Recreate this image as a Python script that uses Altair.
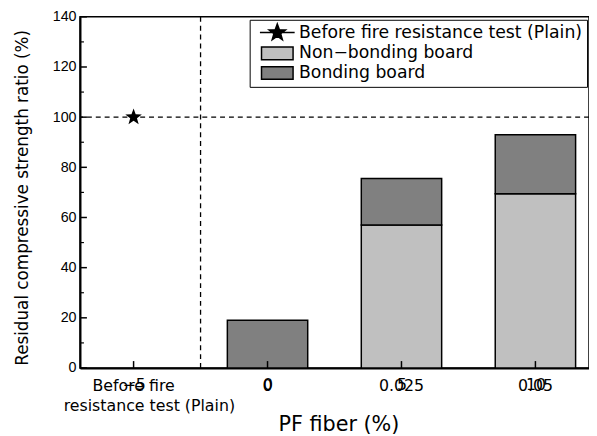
import math
import altair as alt
import pandas as pd

# ---------------- data ----------------
cat_x = [-5, 0, 5, 10]
cat_line1 = ["Before fire", "0", "0.025", "0.05"]
cat_line2_x = [-5]
cat_line2 = ["resistance test (Plain)"]
x_ticks = [-5, 0, 5, 10]
y_major = [0, 20, 40, 60, 80, 100, 120, 140]
y_minor = [10, 30, 50, 70, 90, 110, 130]

bar_x = [0, 5, 10]
nonbonding = [0, 57, 69.5]
total = [19, 75.5, 93]
bar_half = 1.5

plain_x = [-5]
plain_y = [100]
ref_y = [100]
ref_x = [-2.5]

series = ["Before fire resistance test (Plain)", "Non\u2212bonding board", "Bonding board"]
colors = ["black", "#c0c0c0", "#808080"]

rows = []
for xv, nb, tt in zip(bar_x, nonbonding, total):
    if nb > 0:
        rows.append({"x": xv, "lo": 0, "hi": nb, "series": series[1]})
    rows.append({"x": xv, "lo": nb, "hi": tt, "series": series[2]})
bar_df = pd.DataFrame(rows)
plain_df = pd.DataFrame({"x": plain_x, "y": plain_y, "series": [series[0]]})

SH = 1.875  # horizontal shift of legend glyphs (symbol units)


def star_path(R, r, cx=0.0):
    pts = []
    for i in range(10):
        a = -math.pi / 2 + i * math.pi / 5
        rad = R if i % 2 == 0 else r
        pts.append(f"{cx + rad * math.cos(a):.3f},{rad * math.sin(a):.3f}")
    return "M" + "L".join(pts) + "Z"


star_line = f"M{-2.2 + SH:.3f},0L{2.2 + SH:.3f},0" + star_path(1.1, 0.45, SH)
rect_sym = (f"M{-2 + SH:.3f},-0.8L{2 + SH:.3f},-0.8L{2 + SH:.3f},0.8"
            f"L{-2 + SH:.3f},0.8Z")
star_plot = star_path(1.1, 0.45)

W, H = 516, 356
FONT = "DejaVu Sans"

xscale = alt.Scale(domain=[-7, 12], nice=False, zero=False)
yscale = alt.Scale(domain=[0, 140], nice=False, zero=True)
cscale = alt.Scale(domain=series, range=colors)
sscale = alt.Scale(domain=series, range=[star_line, rect_sym, rect_sym])

legend = alt.Legend(
    title=None, orient="none", legendX=172, legendY=3, direction="vertical",
    fillColor="white", strokeColor="black", padding=4,
    labelFont=FONT, labelFontSize=17.5, labelColor="black", labelLimit=500,
    symbolSize=256, symbolStrokeColor="black", symbolStrokeWidth=1.5,
    labelOffset=28, rowPadding=0, cornerRadius=0,
)

xaxis = alt.Axis(values=x_ticks, ticks=False, grid=False, domainColor="black",
                 domainWidth=2, labelFont=FONT, labelFontSize=16, labelColor="black",
                 labelPadding=9, title="PF fiber (%)", titleFont=FONT, titleFontSize=21,
                 titleFontWeight="normal", titleColor="black", titlePadding=21,
                 titleX=262)
yaxis = alt.Axis(values=y_major, ticks=False, grid=False, domainColor="black",
                 domainWidth=2, labelFont="Liberation Sans", labelFontSize=14.5,
                 labelColor="black", labelPadding=4,
                 title="Residual compressive strength ratio (%)", titleFont=FONT,
                 titleFontSize=17, titleFontWeight="normal", titleColor="black",
                 titlePadding=21, titleY=183)


def X(f):
    return alt.X(f, scale=xscale, axis=xaxis)


def Y(f):
    return alt.Y(f, scale=yscale, axis=yaxis)


bars = alt.Chart(bar_df).transform_calculate(
    x0=f"datum.x - {bar_half}", x1=f"datum.x + {bar_half}"
).mark_bar(stroke="black", strokeWidth=1.5).encode(
    x=X("x0:Q"), x2="x1:Q", y=Y("lo:Q"), y2="hi:Q",
    color=alt.Color("series:N", scale=cscale, legend=legend),
)

dash = [5, 4]
hline = alt.Chart(pd.DataFrame({"y": ref_y})).mark_rule(
    color="black", strokeWidth=1.3, strokeDash=dash).encode(y=Y("y:Q"))
vline = alt.Chart(pd.DataFrame({"x": ref_x})).mark_rule(
    color="black", strokeWidth=1.3, strokeDash=dash).encode(x=X("x:Q"))

# layer that only feeds the legend glyphs (draws nothing itself)
legend_pts = alt.Chart(plain_df).transform_filter("false").mark_point(
    filled=True, size=256, opacity=1
).encode(
    x=X("x:Q"), y=Y("y:Q"),
    color=alt.Color("series:N", scale=cscale, legend=legend),
    shape=alt.Shape("series:N", scale=sscale, legend=legend),
)
star = alt.Chart(plain_df).mark_point(filled=True, size=256, opacity=1, color="black",
                                      shape=star_plot).encode(x=X("x:Q"), y=Y("y:Q"))

ymaj = alt.Chart(pd.DataFrame({"y": y_major})).mark_rule(color="black", strokeWidth=1.5).encode(
    y=Y("y:Q"), x=alt.value(0), x2=alt.value(7))
ymin = alt.Chart(pd.DataFrame({"y": y_minor})).mark_rule(color="black", strokeWidth=1.2).encode(
    y=Y("y:Q"), x=alt.value(0), x2=alt.value(4))
xtk = alt.Chart(pd.DataFrame({"x": x_ticks})).mark_rule(color="black", strokeWidth=1.5).encode(
    x=X("x:Q"), y=alt.value(H), y2=alt.value(H - 7))

lab1 = alt.Chart(pd.DataFrame({"x": cat_x, "t": cat_line1})).mark_text(
    font=FONT, fontSize=16, color="black", baseline="middle", align="center"
).encode(x=X("x:Q"), y=alt.value(H + 18), text="t:N")
lab2 = alt.Chart(pd.DataFrame({"x": cat_line2_x, "t": cat_line2})).mark_text(
    font=FONT, fontSize=16, color="black", baseline="middle", align="center", dx=16
).encode(x=X("x:Q"), y=alt.value(H + 39), text="t:N")

chart = alt.layer(bars, hline, vline, legend_pts, star, ymaj, ymin, xtk, lab1, lab2).properties(
    width=W, height=H, background="white",
    autosize=alt.AutoSizeParams(type="none"),
    padding={"left": 73, "top": 6, "right": 0, "bottom": 66},
).configure_view(stroke="black", strokeWidth=1.5)

chart.save("out.html", embed_options={"renderer": "svg", "actions": False})
